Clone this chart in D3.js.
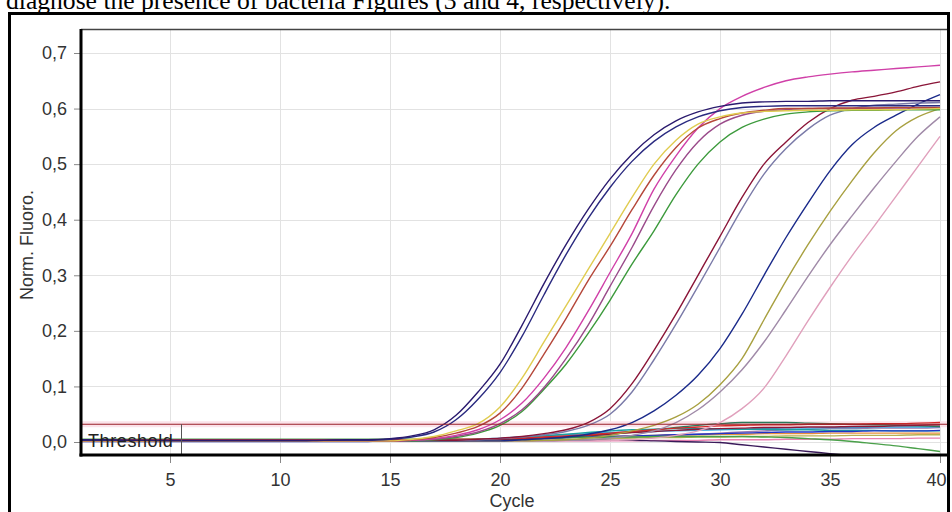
<!DOCTYPE html>
<html>
<head>
<meta charset="utf-8">
<script src="https://cdn.jsdelivr.net/npm/d3@7"></script>
<style>
	body { margin: 0; background: #fff; }
	svg { display: block; }
	text { font-family: "Liberation Sans", Arial, sans-serif; }
</style>
</head>
<body>
<div id="grafico"></div>
<script>
var width = 952;
var height = 512;

// ciclos da PCR
var cycles = [1,2,3,4,5,6,7,8,9,10,11,12,13,14,15,16,17,18,19,20,
	21,22,23,24,25,26,27,28,29,30,31,32,33,34,35,36,37,38,39,40];

var xTicks = [5, 10, 15, 20, 25, 30, 35, 40];
var yTicks = [0.0, 0.1, 0.2, 0.3, 0.4, 0.5, 0.6, 0.7];
var thresholdValue = 0.032;

// amostras positivas (curvas de amplificação)
var navyA = [0.004,0.004,0.003,0.003,0.003,0.003,0.003,0.003,0.003,0.003,
	0.003,0.003,0.004,0.004,0.006,0.011,0.022,0.048,0.09,0.14,
	0.21,0.285,0.355,0.418,0.473,0.518,0.553,0.578,0.594,0.604,
	0.61,0.612,0.613,0.613,0.614,0.614,0.614,0.614,0.614,0.614];
var navyB = [0.003,0.003,0.003,0.003,0.002,0.002,0.002,0.002,0.002,0.002,
	0.002,0.003,0.003,0.003,0.005,0.009,0.018,0.04,0.077,0.125,
	0.19,0.265,0.337,0.402,0.458,0.505,0.541,0.567,0.585,0.596,
	0.602,0.604,0.605,0.605,0.605,0.605,0.605,0.605,0.605,0.605];
var yellow = [0.002,0.002,0.002,0.002,0.002,0.002,0.002,0.002,0.002,0.002,
	0.002,0.002,0.002,0.002,0.002,0.005,0.01,0.02,0.033,0.063,
	0.115,0.18,0.245,0.31,0.375,0.44,0.5,0.543,0.572,0.585,
	0.592,0.595,0.596,0.597,0.597,0.598,0.598,0.598,0.599,0.6];
var orange = [0.002,0.002,0.002,0.002,0.002,0.002,0.002,0.002,0.002,0.002,
	0.002,0.002,0.002,0.002,0.002,0.004,0.008,0.016,0.028,0.052,
	0.097,0.158,0.222,0.29,0.352,0.418,0.48,0.53,0.565,0.582,
	0.592,0.597,0.6,0.6,0.601,0.601,0.601,0.602,0.602,0.602];
var magenta = [0.002,0.002,0.002,0.002,0.002,0.002,0.002,0.002,0.002,0.002,
	0.002,0.002,0.002,0.002,0.002,0.003,0.006,0.012,0.022,0.04,
	0.07,0.115,0.17,0.235,0.305,0.375,0.455,0.515,0.565,0.6,
	0.622,0.638,0.65,0.657,0.662,0.666,0.669,0.672,0.675,0.678];
var violet = [0.002,0.002,0.002,0.002,0.002,0.002,0.002,0.002,0.002,0.002,
	0.002,0.002,0.002,0.002,0.002,0.003,0.005,0.01,0.018,0.033,
	0.058,0.098,0.15,0.21,0.28,0.35,0.425,0.49,0.54,0.572,
	0.588,0.595,0.598,0.6,0.6,0.6,0.601,0.601,0.601,0.601];
var green = [0.002,0.002,0.002,0.002,0.002,0.002,0.002,0.002,0.002,0.002,
	0.002,0.002,0.002,0.002,0.002,0.002,0.004,0.008,0.016,0.03,
	0.055,0.095,0.14,0.195,0.255,0.32,0.38,0.445,0.5,0.54,
	0.566,0.581,0.59,0.594,0.596,0.597,0.597,0.598,0.598,0.598];
var maroon = [0.003,0.003,0.003,0.003,0.003,0.003,0.003,0.003,0.003,0.003,
	0.003,0.003,0.003,0.003,0.003,0.003,0.003,0.003,0.005,0.007,
	0.01,0.015,0.022,0.035,0.06,0.105,0.165,0.23,0.3,0.37,
	0.44,0.5,0.54,0.575,0.6,0.615,0.622,0.63,0.64,0.648];
var slate = [0.003,0.003,0.003,0.003,0.003,0.003,0.003,0.003,0.003,0.003,
	0.003,0.003,0.003,0.003,0.003,0.003,0.003,0.003,0.004,0.006,
	0.009,0.013,0.019,0.03,0.05,0.09,0.148,0.212,0.28,0.35,
	0.42,0.482,0.528,0.563,0.588,0.6,0.606,0.608,0.61,0.611];
var lateNavy = [0.002,0.002,0.002,0.002,0.002,0.002,0.002,0.002,0.002,0.002,
	0.002,0.002,0.002,0.002,0.002,0.002,0.002,0.002,0.002,0.002,
	0.004,0.006,0.009,0.014,0.022,0.035,0.056,0.084,0.12,0.168,
	0.23,0.3,0.368,0.43,0.488,0.535,0.566,0.588,0.608,0.625];
var olive = [0.002,0.002,0.002,0.002,0.002,0.002,0.002,0.002,0.002,0.002,
	0.002,0.002,0.002,0.002,0.002,0.002,0.002,0.002,0.002,0.002,
	0.002,0.003,0.004,0.007,0.012,0.02,0.03,0.045,0.068,0.103,
	0.15,0.22,0.29,0.355,0.415,0.47,0.52,0.56,0.585,0.6];
var lilac = [0.002,0.002,0.002,0.002,0.002,0.002,0.002,0.002,0.002,0.002,
	0.002,0.002,0.002,0.002,0.002,0.002,0.002,0.002,0.002,0.002,
	0.002,0.002,0.003,0.004,0.007,0.012,0.02,0.035,0.058,0.09,
	0.13,0.18,0.238,0.298,0.355,0.407,0.457,0.505,0.55,0.585];
var lightPink = [0.002,0.002,0.002,0.002,0.002,0.002,0.002,0.002,0.002,0.002,
	0.002,0.002,0.002,0.002,0.002,0.002,0.002,0.002,0.002,0.002,
	0.002,0.002,0.002,0.002,0.003,0.004,0.007,0.012,0.02,0.035,
	0.06,0.097,0.155,0.218,0.278,0.335,0.388,0.442,0.496,0.55];

// amostras negativas (linhas quase planas)
var negRed = [0.004,0.004,0.004,0.004,0.004,0.004,0.004,0.004,0.004,0.004,
	0.004,0.004,0.004,0.004,0.004,0.004,0.005,0.005,0.005,0.006,
	0.007,0.009,0.011,0.013,0.016,0.019,0.022,0.025,0.027,0.029,
	0.03,0.031,0.031,0.032,0.032,0.032,0.033,0.033,0.034,0.035];
var negMaroon = [0.003,0.003,0.003,0.003,0.003,0.003,0.003,0.003,0.003,0.003,
	0.003,0.003,0.003,0.003,0.003,0.003,0.003,0.003,0.004,0.005,
	0.006,0.008,0.01,0.012,0.014,0.017,0.019,0.021,0.023,0.024,
	0.025,0.026,0.026,0.027,0.027,0.028,0.028,0.029,0.03,0.031];
var negTeal = [0.002,0.002,0.002,0.002,0.002,0.002,0.002,0.002,0.002,0.002,
	0.002,0.002,0.002,0.002,0.002,0.002,0.002,0.002,0.004,0.006,
	0.008,0.011,0.014,0.017,0.02,0.022,0.023,0.024,0.024,0.024,
	0.023,0.023,0.022,0.022,0.021,0.021,0.021,0.02,0.02,0.02];
var negBlue = [0.001,0.001,0.001,0.001,0.001,0.001,0.001,0.001,0.001,0.001,
	0.001,0.001,0.001,0.001,0.002,0.002,0.003,0.003,0.004,0.005,
	0.006,0.007,0.008,0.009,0.01,0.011,0.012,0.013,0.014,0.015,
	0.016,0.017,0.018,0.018,0.019,0.019,0.02,0.02,0.02,0.021];
var negPurple = [0.003,0.003,0.003,0.003,0.003,0.003,0.003,0.003,0.003,0.003,
	0.003,0.003,0.003,0.003,0.003,0.003,0.003,0.003,0.003,0.003,
	0.003,0.003,0.003,0.003,0.003,0.003,0.002,0.001,0.0,-0.001,
	-0.005,-0.009,-0.013,-0.017,-0.021,-0.025,-0.029,-0.033,-0.037,-0.041];
var negGreen = [0.005,0.005,0.005,0.005,0.005,0.005,0.005,0.005,0.005,0.005,
	0.005,0.005,0.005,0.005,0.005,0.005,0.005,0.005,0.005,0.005,
	0.006,0.007,0.008,0.008,0.009,0.009,0.01,0.01,0.01,0.01,
	0.01,0.009,0.008,0.006,0.004,0.001,-0.003,-0.007,-0.012,-0.017];
var negOlive = [0.002,0.002,0.002,0.002,0.002,0.002,0.002,0.002,0.002,0.002,
	0.002,0.002,0.002,0.002,0.002,0.002,0.002,0.002,0.002,0.002,
	0.003,0.003,0.004,0.005,0.006,0.007,0.008,0.008,0.009,0.009,
	0.01,0.01,0.011,0.011,0.011,0.012,0.012,0.012,0.013,0.013];
var negPink = [0.002,0.002,0.002,0.002,0.002,0.002,0.002,0.002,0.002,0.002,
	0.002,0.002,0.002,0.002,0.002,0.002,0.002,0.002,0.002,0.002,
	0.002,0.002,0.002,0.002,0.002,0.002,0.003,0.003,0.003,0.004,
	0.004,0.004,0.005,0.005,0.005,0.006,0.006,0.006,0.007,0.007];
var negOrange = [0.003,0.003,0.003,0.003,0.003,0.003,0.003,0.003,0.003,0.003,
	0.003,0.003,0.003,0.003,0.003,0.003,0.003,0.003,0.004,0.005,
	0.006,0.007,0.008,0.009,0.01,0.011,0.012,0.013,0.013,0.014,
	0.014,0.015,0.015,0.015,0.016,0.016,0.016,0.016,0.016,0.016];
var negLightBlue = [0.002,0.002,0.002,0.002,0.002,0.002,0.002,0.002,0.002,0.002,
	0.002,0.002,0.002,0.002,0.002,0.002,0.003,0.004,0.005,0.007,
	0.009,0.011,0.013,0.015,0.017,0.018,0.019,0.02,0.021,0.022,
	0.023,0.024,0.025,0.025,0.026,0.026,0.027,0.027,0.027,0.028];
var negDarkGreen = [0.003,0.003,0.003,0.003,0.003,0.003,0.003,0.003,0.003,0.003,
	0.003,0.003,0.003,0.003,0.003,0.003,0.003,0.003,0.003,0.003,
	0.004,0.006,0.008,0.011,0.014,0.018,0.022,0.026,0.03,0.033,
	0.035,0.035,0.035,0.034,0.033,0.032,0.031,0.03,0.029,0.028];
var negGrayViolet = [0.002,0.002,0.002,0.002,0.002,0.002,0.002,0.002,0.002,0.002,
	0.002,0.002,0.002,0.002,0.002,0.002,0.002,0.002,0.002,0.002,
	0.002,0.002,0.003,0.004,0.006,0.008,0.01,0.012,0.014,0.016,
	0.018,0.02,0.022,0.023,0.024,0.024,0.025,0.025,0.025,0.026];

// ordem de desenho: negativas primeiro, positivas por cima
var series = [
	{ values: negGrayViolet, color: "#9a7ab0" },
	{ values: negPink, color: "#e880b0" },
	{ values: negOlive, color: "#b8b050" },
	{ values: negOrange, color: "#e8903a" },
	{ values: negLightBlue, color: "#3aa8e0" },
	{ values: negTeal, color: "#1aa0a0" },
	{ values: negBlue, color: "#2233c8" },
	{ values: negGreen, color: "#4aa04a" },
	{ values: negDarkGreen, color: "#2a7a5a" },
	{ values: negMaroon, color: "#8a1a3a" },
	{ values: negRed, color: "#d42a2a" },
	{ values: negPurple, color: "#3a1a5a" },
	{ values: lightPink, color: "#e0a0bc" },
	{ values: lilac, color: "#a08aa8" },
	{ values: olive, color: "#a8a040" },
	{ values: lateNavy, color: "#1a2a8a" },
	{ values: slate, color: "#7a7aa8" },
	{ values: maroon, color: "#8a1538" },
	{ values: green, color: "#3c9a3c" },
	{ values: violet, color: "#9a4a8a" },
	{ values: magenta, color: "#d040a8" },
	{ values: orange, color: "#b5473a" },
	{ values: yellow, color: "#e0cc50" },
	{ values: navyB, color: "#2a2a80" },
	{ values: navyA, color: "#2a1a6e" }
];

var plot = { left: 81, right: 947, top: 29, bottom: 455 };

var x = d3.scaleLinear().domain([1, 40]).range([82, 940]);
var y = d3.scaleLinear().domain([0, 0.7]).range([442, 53]);

var svg = d3.select("#grafico").append("svg")
	.attr("width", width)
	.attr("height", height);

svg.append("rect").attr("width", width).attr("height", height).attr("fill", "#fff");

// texto do artigo cortado no topo
svg.append("text")
	.attr("x", 6)
	.attr("y", 9)
	.style("font-family", "'Liberation Serif', 'Times New Roman', serif")
	.attr("font-size", 25.6)
	.attr("fill", "#000")
	.text("diagnose the presence of bacteria Figures (3 and 4, respectively).");

// moldura externa
svg.append("rect")
	.attr("x", 9.5).attr("y", 13.5)
	.attr("width", 939).attr("height", 520)
	.attr("fill", "#fff")
	.attr("stroke", "#000")
	.attr("stroke-width", 3);

// grade
var grid = svg.append("g");
grid.selectAll(".gx").data(xTicks).enter().append("line")
	.attr("x1", d => Math.round(x(d)) + 0.5).attr("x2", d => Math.round(x(d)) + 0.5)
	.attr("y1", plot.top).attr("y2", plot.bottom)
	.attr("stroke", "#e2e2e2");
grid.selectAll(".gy").data(yTicks).enter().append("line")
	.attr("x1", plot.left).attr("x2", plot.right)
	.attr("y1", d => Math.round(y(d)) + 0.5).attr("y2", d => Math.round(y(d)) + 0.5)
	.attr("stroke", "#e2e2e2");

// faixa e linha do threshold
svg.append("rect")
	.attr("x", plot.left).attr("y", y(thresholdValue) - 3)
	.attr("width", plot.right - plot.left).attr("height", 6)
	.attr("fill", "#fbe3ea");

svg.append("defs").append("clipPath").attr("id", "clip")
	.append("rect")
	.attr("x", plot.left).attr("y", plot.top)
	.attr("width", plot.right - plot.left).attr("height", plot.bottom - plot.top);

var line = d3.line()
	.x((d, i) => x(cycles[i]))
	.y(d => y(d))
	.curve(d3.curveMonotoneX);

var curvas = svg.append("g").attr("clip-path", "url(#clip)");
curvas.selectAll("path").data(series).enter().append("path")
	.attr("d", d => line(d.values))
	.attr("fill", "none")
	.attr("stroke", d => d.color)
	.attr("stroke-width", 1.4);

svg.append("line")
	.attr("x1", plot.left).attr("x2", plot.right)
	.attr("y1", y(thresholdValue)).attr("y2", y(thresholdValue))
	.attr("stroke", "#9a2028")
	.attr("stroke-width", 1.1);

svg.append("line")
	.attr("x1", 181.5).attr("x2", 181.5)
	.attr("y1", y(thresholdValue)).attr("y2", plot.bottom)
	.attr("stroke", "#555");

svg.append("text")
	.attr("x", 88).attr("y", 447)
	.attr("font-size", 18)
	.attr("letter-spacing", 0.6)
	.attr("fill", "#222")
	.text("Threshold");

// eixos
var fmt = d => d3.format(".1f")(d).replace(".", ",");

var eixoY = svg.append("g")
	.attr("transform", `translate(${plot.left},0)`)
	.call(d3.axisLeft(y).tickValues(yTicks).tickFormat(fmt).tickSize(7).tickSizeOuter(0).tickPadding(7));

var eixoX = svg.append("g")
	.attr("transform", `translate(0,${plot.bottom})`)
	.call(d3.axisBottom(x).tickValues(xTicks).tickSize(8).tickSizeOuter(0).tickPadding(10));

[eixoY, eixoX].forEach(g => {
	g.select(".domain").remove();
	g.selectAll(".tick line").attr("stroke", "#888");
	g.selectAll(".tick text")
		.attr("font-size", 18)
		.attr("fill", "#333")
		.style("font-family", "'Liberation Sans', Arial, sans-serif");
});
// o último rótulo encosta na moldura
eixoX.selectAll(".tick text").filter(d => d === 40).attr("dx", -4);

// bordas do gráfico
svg.append("line")
	.attr("x1", plot.left).attr("x2", plot.right)
	.attr("y1", plot.top + 0.5).attr("y2", plot.top + 0.5)
	.attr("stroke", "#444").attr("stroke-width", 1.5);
svg.append("line")
	.attr("x1", plot.left).attr("x2", plot.left)
	.attr("y1", plot.top).attr("y2", plot.bottom + 1.5)
	.attr("stroke", "#000").attr("stroke-width", 3);
svg.append("line")
	.attr("x1", plot.left - 1.5).attr("x2", plot.right)
	.attr("y1", plot.bottom).attr("y2", plot.bottom)
	.attr("stroke", "#000").attr("stroke-width", 3);

// títulos dos eixos
svg.append("text")
	.attr("x", 512).attr("y", 507)
	.attr("text-anchor", "middle")
	.attr("font-size", 18)
	.attr("fill", "#333")
	.text("Cycle");

svg.append("text")
	.attr("transform", "translate(33,245) rotate(-90)")
	.attr("text-anchor", "middle")
	.attr("font-size", 18)
	.attr("fill", "#333")
	.text("Norm. Fluoro.");
</script>
</body>
</html>
